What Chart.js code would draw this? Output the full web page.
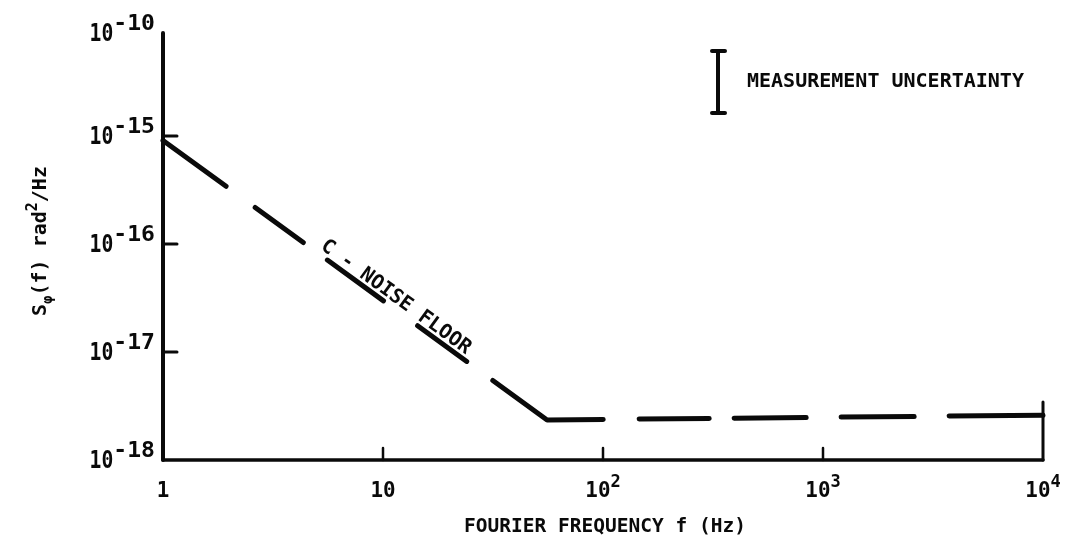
<!DOCTYPE html>
<html>
<head>
<meta charset="utf-8">
<script src="https://cdn.jsdelivr.net/npm/chart.js@4/dist/chart.umd.min.js"></script>
<style>
  html, body { margin: 0; padding: 0; background: #fff; }
  #wrap { width: 1066px; height: 539px; }
</style>
</head>
<body>
<div id="wrap"><canvas id="c" width="1066" height="539"></canvas></div>
<script>
// Noise floor of the measurement system: f^-1.5 roll-off into a flat floor.
const noiseFreq  = [1, 55.7, 10000];             // Hz
const noiseFloor = [9.1e-16, 2.35e-18, 2.6e-18]; // rad^2/Hz

// Axis ticks
const xTickValues = [1, 10, 100, 1000, 10000];
const xTickBase   = ['1', '10', '10', '10', '10'];
const xTickExp    = ['', '', '2', '3', '4'];
const yTickValues = [1e-18, 1e-17, 1e-16, 1e-15];
const yTickExp    = ['-18', '-17', '-16', '-15'];
const yTopExp     = '-10';   // the axis is broken above 10^-15; its top end is 10^-10

// Text
const noiseLabel  = 'C - NOISE FLOOR';
const noiseLabelFreq = 5.0;  // where the label starts along the curve
const legendText  = 'MEASUREMENT UNCERTAINTY';
const xTitle      = 'FOURIER FREQUENCY f (Hz)';

const FONT = '"DejaVu Sans Mono", monospace';
const INK = '#0a0a0a';

function partWidth(ctx, p) {
  ctx.font = `bold ${p.size}px ${FONT}`;
  return ctx.measureText(p.t).width * (p.sx || 1) + (p.gap || 0);
}
function drawRich(ctx, parts, x, y, align) {
  let w = 0;
  for (const p of parts) w += partWidth(ctx, p);
  let cx = align === 'right' ? x - w : align === 'center' ? x - w / 2 : x;
  ctx.textAlign = 'left';
  ctx.textBaseline = 'alphabetic';
  for (const p of parts) {
    const pw = partWidth(ctx, p);
    ctx.font = `bold ${p.size}px ${FONT}`;
    ctx.save();
    ctx.translate(cx, y + (p.dy || 0));
    ctx.scale(p.sx || 1, 1);
    ctx.fillText(p.t, 0, 0);
    ctx.restore();
    cx += pw;
  }
}
function seg(ctx, x1, y1, x2, y2, w) {
  ctx.lineWidth = w;
  ctx.beginPath();
  ctx.moveTo(x1, y1);
  ctx.lineTo(x2, y2);
  ctx.stroke();
}

const axesPlugin = {
  id: 'hand-axes',
  afterDatasetsDraw(chart) {
    const { ctx, chartArea: a, scales } = chart;
    const xs = scales.x, ys = scales.y;
    ctx.save();
    ctx.strokeStyle = INK;
    ctx.fillStyle = INK;
    ctx.lineCap = 'round';

    // axis frame: left axis, bottom axis, short right stub
    seg(ctx, a.left, a.top, a.left, a.bottom, 4);
    seg(ctx, a.left, a.bottom, a.right, a.bottom, 3.5);
    seg(ctx, a.right, a.bottom, a.right, a.bottom - 58, 3);

    // inward ticks
    yTickValues.forEach((v, i) => {
      if (i === 0) return;
      const py = ys.getPixelForValue(v);
      seg(ctx, a.left, py, a.left + 14, py, 3);
    });
    xTickValues.forEach((v, i) => {
      if (i === 0 || i === xTickValues.length - 1) return;
      const px = xs.getPixelForValue(v);
      seg(ctx, px, a.bottom, px, a.bottom - 12, 2.5);
    });

    // y tick labels
    const yLabel = (py, exp) => drawRich(ctx, [
      { t: '10', size: 24, sx: 0.82 },
      { t: exp, size: 22, sx: 1.05, dy: -11 }
    ], a.left - 8, py + 8, 'right');
    yTickValues.forEach((v, i) => yLabel(ys.getPixelForValue(v), yTickExp[i]));
    yLabel(a.top, yTopExp);

    // x tick labels
    xTickValues.forEach((v, i) => {
      const px = xs.getPixelForValue(v);
      const parts = [{ t: xTickBase[i], size: 22, sx: 0.95 }];
      if (xTickExp[i]) parts.push({ t: xTickExp[i], size: 17, dy: -10 });
      drawRich(ctx, parts, px, a.bottom + 37, 'center');
    });

    // x title
    drawRich(ctx, [{ t: xTitle, size: 19.5 }], 605, 532, 'center');

    // y title, rotated
    ctx.save();
    ctx.translate(46, 241);
    ctx.rotate(-Math.PI / 2);
    drawRich(ctx, [
      { t: 'S', size: 20 },
      { t: 'φ', size: 14, dy: 6 },
      { t: '(f) rad', size: 20 },
      { t: '2', size: 15, dy: -9 },
      { t: '/Hz', size: 20 }
    ], 0, 0, 'center');
    ctx.restore();

    // label written along the sloped part of the curve
    const meta = chart.getDatasetMeta(0);
    const p0 = meta.data[0], p1 = meta.data[1];
    const lx = xs.getPixelForValue(noiseLabelFreq);
    const t = (lx - p0.x) / (p1.x - p0.x);
    const ly = p0.y + t * (p1.y - p0.y);
    ctx.save();
    ctx.translate(lx, ly);
    ctx.rotate(Math.atan2(p1.y - p0.y, p1.x - p0.x));
    drawRich(ctx, [{ t: noiseLabel, size: 20 }], 0, -5, 'left');
    ctx.restore();

    // measurement uncertainty key
    seg(ctx, 718, 51, 718, 113, 4);
    seg(ctx, 712, 51, 725, 51, 4);
    seg(ctx, 712, 113, 725, 113, 4);
    drawRich(ctx, [{ t: legendText, size: 20 }], 747, 87, 'left');

    ctx.restore();
  }
};

new Chart(document.getElementById('c'), {
  type: 'line',
  data: {
    datasets: [{
      label: 'noise floor',
      data: noiseFreq.map((f, i) => ({ x: f, y: noiseFloor[i] })),
      borderColor: INK,
      borderWidth: 5,
      borderCapStyle: 'round',
      borderJoinStyle: 'round',
      borderDash: [78, 36, 59.5, 29.8, 69.4, 42.2, 60.7, 32.3, 123.2, 36, 70, 25, 72, 35, 73, 35, 400],
      pointRadius: 0,
      tension: 0,
      fill: false,
      clip: false
    }]
  },
  options: {
    responsive: false,
    animation: false,
    events: [],
    layout: { padding: { left: 163, right: 23, top: 33, bottom: 79 } },
    plugins: { legend: { display: false }, tooltip: { enabled: false } },
    scales: {
      x: { type: 'logarithmic', min: 1, max: 10000, display: false },
      y: { type: 'logarithmic', min: 1e-18, max: 8.99e-15, display: false }
    }
  },
  plugins: [axesPlugin]
});
</script>
</body>
</html>
